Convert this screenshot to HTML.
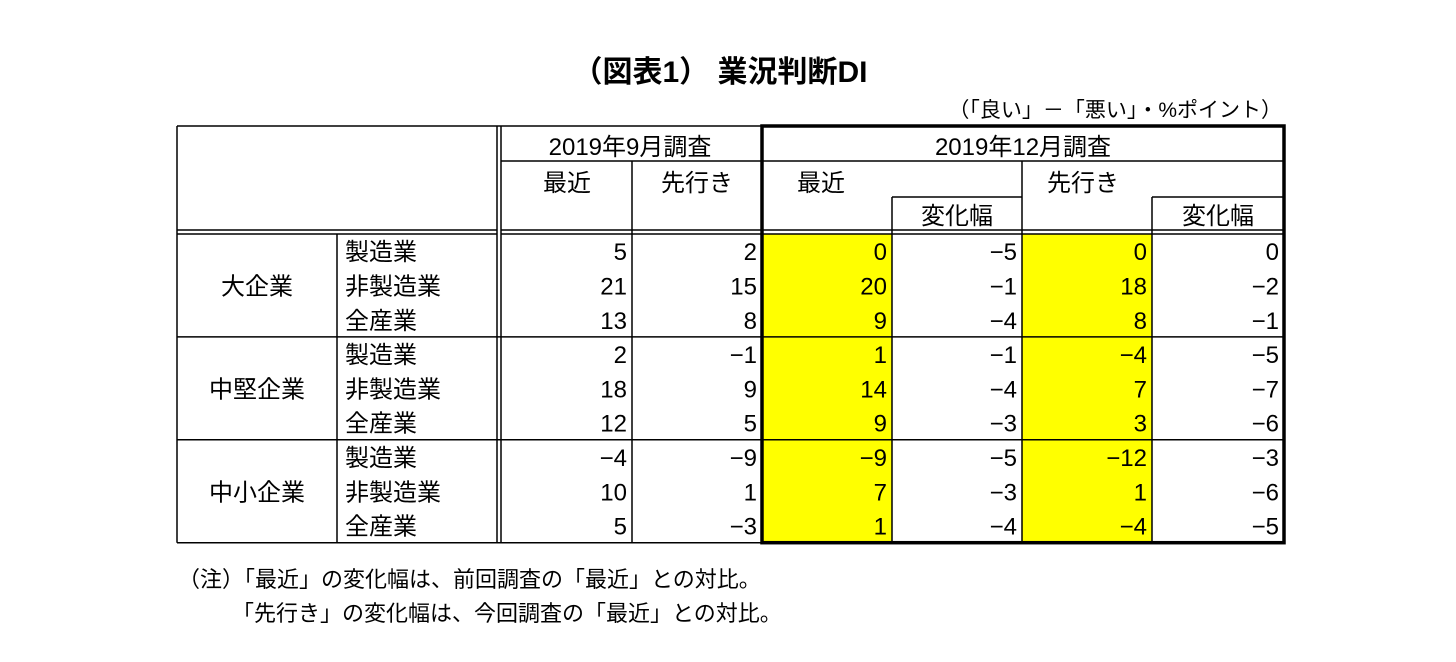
<!DOCTYPE html>
<html><head><meta charset="utf-8"><style>
body{margin:0;background:#fff;}
svg text{font-family:"Liberation Sans","Noto Sans CJK JP",sans-serif;fill:#000;}
</style></head><body>
<svg id="t" width="1456" height="657" xmlns="http://www.w3.org/2000/svg">
<text x="720" y="82" font-size="30" font-weight="bold" text-anchor="middle">（図表1） 業況判断DI</text>
<text x="1282" y="117" font-size="21" text-anchor="end">（「良い」－「悪い」・%ポイント）</text>
<text x="178" y="587" font-size="22">（注）「最近」の変化幅は、前回調査の「最近」との対比。</text>
<text x="232" y="621" font-size="22">「先行き」の変化幅は、今回調査の「最近」との対比。</text>
<g id="g"></g>
</svg>
<script>
const groups=["大企業","中堅企業","中小企業"];
const industries=["製造業","非製造業","全産業"];
const sepRecent=[5,21,13,2,18,12,-4,10,5];
const sepForecast=[2,15,8,-1,9,5,-9,1,-3];
const decRecent=[0,20,9,1,14,9,-9,7,1];
const decRecentChg=[-5,-1,-4,-1,-4,-3,-5,-3,-4];
const decForecast=[0,18,8,-4,7,3,-12,1,-4];
const decForecastChg=[0,-2,-1,-5,-7,-6,-3,-6,-5];

const NS="http://www.w3.org/2000/svg", g=document.getElementById('g');
function el(tag,a){const e=document.createElementNS(NS,tag);for(const k in a)e.setAttribute(k,a[k]);g.appendChild(e);return e;}
function line(x1,y1,x2,y2,w,name){const e=el('line',{x1,y1,x2,y2,stroke:'#000','stroke-width':w||1.5});

}
function txt(x,y,s,anchor,name){const e=el('text',{x,y,'font-size':24,'text-anchor':anchor||'middle'});e.textContent=s;

}
const fmt=v=>v<0?'−'+Math.abs(v):String(v);
const L=177,R=1284,T=126,H1=161,H2=197,HB=230,DB=234,rowH=34.3;
const cols=[337,497,632,762,892,1022,1152,1284];
const B=DB+rowH*9;
[[762,892],[1022,1152]].forEach(([a,b])=>{const r=el('rect',{x:a,y:DB,width:b-a,height:B-DB,fill:'#ffff00'});

});
txt(630,155,'2019年9月調査','middle','header-sep-survey');
txt(1023,155,'2019年12月調査','middle','header-dec-survey');
txt(567,191,'最近','middle','header-sep-recent');
txt(697,191,'先行き','middle','header-sep-forecast');
txt(797,191,'最近','start','header-dec-recent');
txt(1047,191,'先行き','start','header-dec-forecast');
txt(957,224,'変化幅','middle','header-dec-recent-change');
txt(1218,224,'変化幅','middle','header-dec-forecast-change');
for(let i=0;i<9;i++){
 const y=DB+rowH*(i+0.5)+9;
 txt(345,y,industries[i%3],'start','industry-label');
 const vals=[sepRecent,sepForecast,decRecent,decRecentChg,decForecast,decForecastChg];
 vals.forEach((arr,j)=>txt(cols[j+2]-5,y,fmt(arr[i]),'end','value-cell'));
}
groups.forEach((s,k)=>txt(257,DB+rowH*(k*3+1.5)+9,s,'middle','group-label'));
line(L,T,762,T);line(L,T,L,B);line(L,B,762,B);
line(L,HB,497,HB);line(L,DB,497,DB);
line(497,T,497,B);line(501,T,501,B);
line(501,H1,762,H1);line(762,H1,R,H1);
line(632,H1,632,B);line(1022,H1,1022,B);
line(892,H2,892,B);line(1152,H2,1152,B);
line(892,H2,1022,H2);line(1152,H2,R,H2);
line(501,HB,R,HB);line(501,DB,R,DB);
line(337,DB,337,B);
[3,6].forEach(k=>line(L,DB+rowH*k,R,DB+rowH*k));
const b=el('rect',{x:762,y:T,width:R-762,height:B-T,fill:'none',stroke:'#000','stroke-width':3.5});


</script>
</body></html>
